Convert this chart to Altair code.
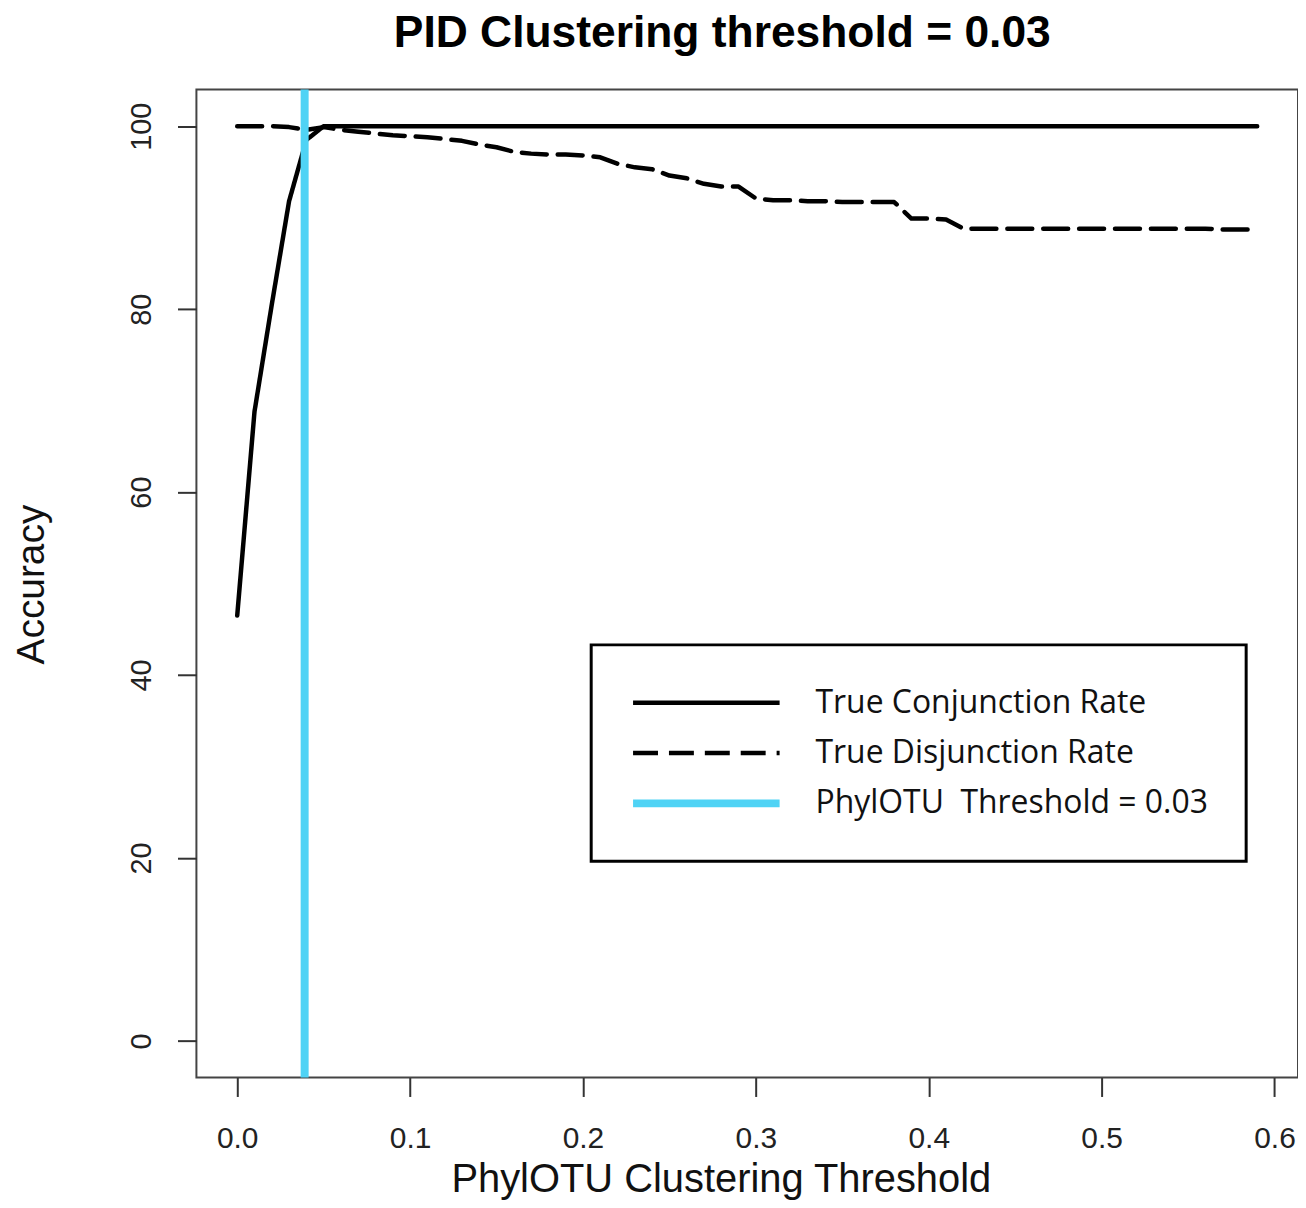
import altair as alt
import pandas as pd

# ---- data ----
thresholds = [0.00, 0.01, 0.02, 0.03, 0.04, 0.05, 0.06, 0.07, 0.08, 0.09,
              0.10, 0.11, 0.12, 0.13, 0.14, 0.15, 0.16, 0.17, 0.18, 0.19,
              0.20, 0.21, 0.22, 0.23, 0.24, 0.25, 0.26, 0.27, 0.28, 0.29,
              0.30, 0.31, 0.32, 0.33, 0.34, 0.35, 0.36, 0.37, 0.38, 0.39,
              0.40, 0.41, 0.42, 0.43, 0.44, 0.45, 0.46, 0.47, 0.48, 0.49,
              0.50, 0.51, 0.52, 0.53, 0.54, 0.55, 0.56, 0.57, 0.58, 0.59]

conjunction = [46.5, 68.8, 80.5, 91.8, 98.5, 100.0, 100.0, 100.0, 100.0, 100.0,
               100.0, 100.0, 100.0, 100.0, 100.0, 100.0, 100.0, 100.0, 100.0, 100.0,
               100.0, 100.0, 100.0, 100.0, 100.0, 100.0, 100.0, 100.0, 100.0, 100.0,
               100.0, 100.0, 100.0, 100.0, 100.0, 100.0, 100.0, 100.0, 100.0, 100.0,
               100.0, 100.0, 100.0, 100.0, 100.0, 100.0, 100.0, 100.0, 100.0, 100.0,
               100.0, 100.0, 100.0, 100.0, 100.0, 100.0, 100.0, 100.0, 100.0, 100.0]

disjunction = [100.0, 100.0, 100.0, 99.9, 99.6, 99.9, 99.6, 99.4, 99.2, 99.0,
               98.9, 98.8, 98.6, 98.4, 98.0, 97.7, 97.2, 97.0, 96.9, 96.9,
               96.8, 96.6, 95.9, 95.5, 95.3, 94.6, 94.3, 93.7, 93.4, 93.4,
               92.1, 91.9, 91.9, 91.8, 91.8, 91.7, 91.7, 91.7, 91.7, 89.9,
               89.9, 89.8, 88.8, 88.8, 88.8, 88.8, 88.8, 88.8, 88.8, 88.8,
               88.8, 88.8, 88.8, 88.8, 88.8, 88.8, 88.8, 88.7, 88.7, 88.7]

series_names = ["True Conjunction Rate", "True Disjunction Rate",
                "PhylOTU\u00a0 Threshold = 0.03"]
series_colors = ["#000000", "#000000", "#4FD3F5"]
series_dashes = [[1, 0], [25, 11], [1, 0]]
series_widths = [4.5, 4.5, 8]
threshold_line = [0.039]

x_ticks = [0.0, 0.1, 0.2, 0.3, 0.4, 0.5, 0.6]
y_ticks = [0, 20, 40, 60, 80, 100]

rows = []
for xv, c, d in zip(thresholds, conjunction, disjunction):
    rows.append({"x": xv, "y": c, "series": series_names[0]})
    rows.append({"x": xv, "y": d, "series": series_names[1]})
lines_df = pd.DataFrame(rows)
rule_df = pd.DataFrame({"x": threshold_line, "series": [series_names[2]]})

legend = alt.Legend(
    title=None, orient="none", legendX=396, legendY=557,
    symbolType="stroke", symbolSize=21609, clipHeight=40, rowPadding=10.5,
    padding=38, labelOffset=32, labelFont="Open Sans", labelFontSize=32,
    labelColor="#111111", labelLimit=0, strokeColor="#000000",
    fillColor="#ffffff",
)

color_enc = alt.Color("series:N", scale=alt.Scale(domain=series_names, range=series_colors), legend=legend)
dash_enc = alt.StrokeDash("series:N", scale=alt.Scale(domain=series_names, range=series_dashes), legend=legend)
width_enc = alt.StrokeWidth("series:N", scale=alt.Scale(type="ordinal", domain=series_names, range=series_widths), legend=legend)

x_scale = alt.Scale(domain=[-0.0236, 0.6136], nice=False, zero=False)
y_scale = alt.Scale(domain=[-4, 104], nice=False, zero=False)

x_axis = alt.Axis(title="PhylOTU Clustering Threshold", values=x_ticks, format=".1f",
                  labelBaseline="alphabetic", labelPadding=51, labelFontSize=30,
                  titleFontSize=40,
                  titleX=526, titleY=114, titleBaseline="alphabetic", titleAlign="center")
y_axis = alt.Axis(title="Accuracy", values=y_ticks, format="d",
                  labelAngle=270, labelAlign="center", labelBaseline="alphabetic", labelPadding=27,
                  labelFontSize=29, titleFontSize=39,
                  titleAngle=270, titleX=-153, titleY=496, titleAlign="center",
                  titleBaseline="alphabetic")

lines = alt.Chart(lines_df).mark_line(strokeCap="round", strokeJoin="round").encode(
    x=alt.X("x:Q", scale=x_scale, axis=x_axis),
    y=alt.Y("y:Q", scale=y_scale, axis=y_axis),
    color=color_enc,
    strokeDash=dash_enc,
    strokeWidth=width_enc,
    detail="series:N",
)

rule = alt.Chart(rule_df).mark_rule().encode(
    x=alt.X("x:Q", scale=x_scale),
    color=color_enc,
    strokeDash=dash_enc,
    strokeWidth=width_enc,
)

chart = alt.layer(lines, rule).properties(
    width=1105, height=991,
    title=alt.TitleParams("PID Clustering threshold = 0.03", font="Liberation Sans",
                          fontSize=44.5, fontWeight="bold", anchor="middle", dx=-25,
                          offset=-6, baseline="alphabetic", color="#000000"),
    autosize=alt.AutoSizeParams(type="none"),
    padding={"left": 189, "top": 80, "right": 0, "bottom": 121},
).configure_view(
    stroke="#444444", strokeWidth=2
).configure_axis(
    domain=False, grid=False, tickColor="#333333", tickWidth=2, tickSize=19,
    labelFont="Liberation Sans", labelFontSize=28, labelColor="#222222",
    titleFont="Liberation Sans", titleFontSize=38, titleFontWeight="normal",
    titleColor="#111111",
).configure_legend(
    strokeWidth=3
)

chart.save("out.html", embed_options={"renderer": "svg", "actions": False})
